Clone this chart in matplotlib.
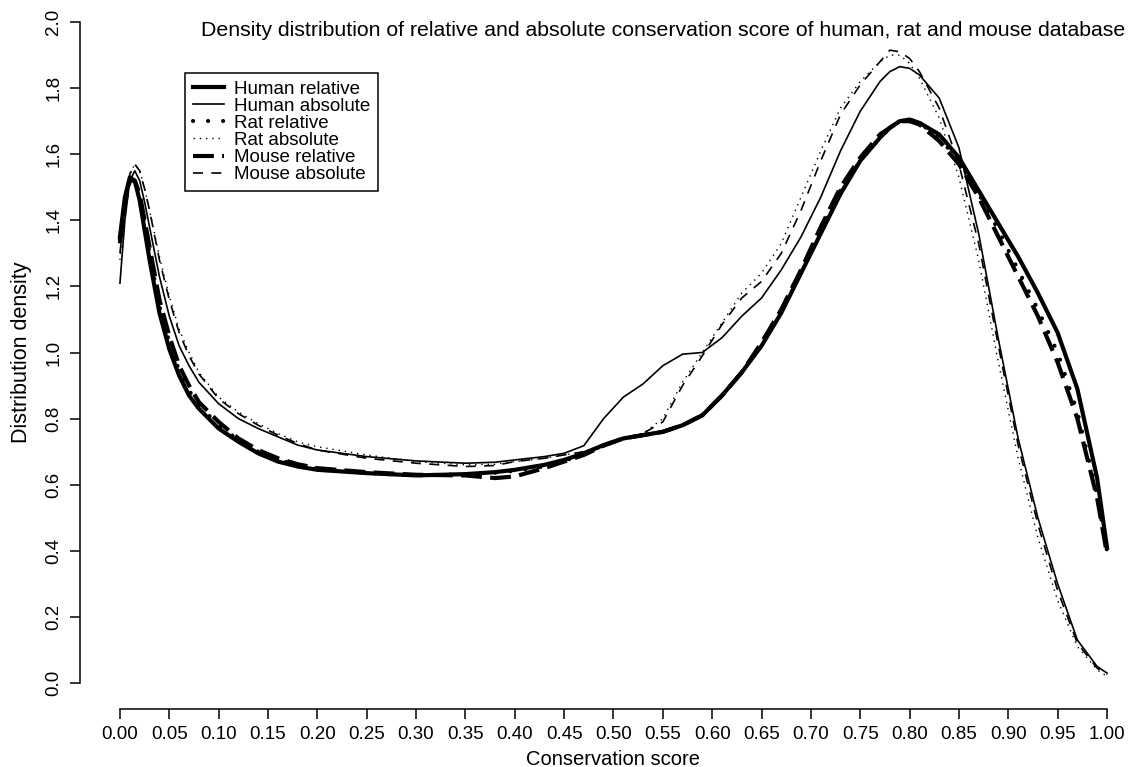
import numpy as np
import matplotlib
matplotlib.use("Agg")
from matplotlib import pyplot as plt

plt.rcParams['font.family'] = ['Liberation Sans', 'DejaVu Sans']

# conservation score grid the curves were read at
score = [0.0, 0.005, 0.01, 0.015, 0.02, 0.025, 0.03, 0.04, 0.05, 0.06, 0.07, 0.08,
         0.10, 0.12, 0.14, 0.16, 0.18, 0.20, 0.25, 0.30, 0.35, 0.38, 0.40,
         0.43, 0.45, 0.47, 0.49, 0.51, 0.53, 0.55, 0.57, 0.59, 0.61, 0.63,
         0.65, 0.67, 0.69, 0.71, 0.73, 0.75, 0.77, 0.78, 0.79, 0.80, 0.81, 0.83,
         0.85, 0.87, 0.89, 0.91, 0.93, 0.95, 0.97, 0.99, 1.00]

human_rel = [1.35, 1.47, 1.53, 1.52, 1.46, 1.37, 1.28, 1.12, 1.01, 0.93, 0.87, 0.83,
             0.77, 0.73, 0.695, 0.67, 0.655, 0.645, 0.635, 0.628, 0.632, 0.638, 0.645,
             0.66, 0.675, 0.695, 0.72, 0.74, 0.75, 0.76, 0.78, 0.81, 0.87, 0.94,
             1.02, 1.12, 1.24, 1.36, 1.48, 1.58, 1.65, 1.68, 1.70, 1.705, 1.695, 1.66,
             1.59, 1.49, 1.39, 1.29, 1.18, 1.06, 0.89, 0.62, 0.41]
human_abs = [1.21, 1.40, 1.52, 1.55, 1.52, 1.455, 1.38, 1.23, 1.11, 1.02, 0.96, 0.91,
             0.845, 0.80, 0.77, 0.745, 0.72, 0.705, 0.685, 0.672, 0.665, 0.668, 0.675,
             0.685, 0.695, 0.718, 0.80, 0.865, 0.905, 0.96, 0.995, 1.00, 1.045, 1.11,
             1.165, 1.25, 1.35, 1.47, 1.61, 1.73, 1.82, 1.85, 1.865, 1.86, 1.84, 1.77,
             1.62, 1.36, 1.04, 0.74, 0.50, 0.30, 0.13, 0.05, 0.03]
rat_rel = [1.34, 1.46, 1.52, 1.52, 1.47, 1.39, 1.30, 1.14, 1.03, 0.945, 0.885, 0.84,
           0.78, 0.735, 0.70, 0.675, 0.66, 0.648, 0.635, 0.628, 0.632, 0.636, 0.642,
           0.655, 0.672, 0.693, 0.72, 0.74, 0.75, 0.76, 0.78, 0.81, 0.87, 0.94,
           1.03, 1.13, 1.25, 1.37, 1.49, 1.58, 1.65, 1.68, 1.70, 1.705, 1.695, 1.65,
           1.58, 1.48, 1.37, 1.25, 1.13, 1.00, 0.82, 0.57, 0.40]
rat_abs = [1.28, 1.44, 1.54, 1.57, 1.55, 1.495, 1.43, 1.29, 1.17, 1.07, 1.00, 0.94,
           0.865, 0.82, 0.785, 0.755, 0.73, 0.715, 0.69, 0.67, 0.66, 0.662, 0.67,
           0.68, 0.69, 0.70, 0.72, 0.74, 0.755, 0.80, 0.91, 1.00, 1.09, 1.18,
           1.24, 1.33, 1.47, 1.61, 1.74, 1.82, 1.88, 1.90, 1.90, 1.875, 1.83, 1.71,
           1.53, 1.28, 0.97, 0.68, 0.44, 0.25, 0.11, 0.04, 0.02]
mouse_rel = [1.33, 1.45, 1.52, 1.52, 1.48, 1.40, 1.32, 1.16, 1.05, 0.96, 0.90, 0.85,
             0.79, 0.74, 0.705, 0.68, 0.662, 0.65, 0.638, 0.63, 0.628, 0.62, 0.625,
             0.65, 0.67, 0.69, 0.718, 0.74, 0.75, 0.76, 0.78, 0.81, 0.87, 0.94,
             1.03, 1.13, 1.25, 1.38, 1.50, 1.59, 1.66, 1.68, 1.70, 1.70, 1.69, 1.64,
             1.57, 1.47, 1.35, 1.23, 1.11, 0.97, 0.80, 0.56, 0.39]
mouse_abs = [1.30, 1.45, 1.54, 1.57, 1.55, 1.495, 1.43, 1.28, 1.16, 1.06, 0.99, 0.935,
             0.86, 0.815, 0.78, 0.75, 0.725, 0.705, 0.68, 0.665, 0.655, 0.658, 0.67,
             0.68, 0.69, 0.70, 0.72, 0.74, 0.755, 0.79, 0.90, 0.99, 1.085, 1.165,
             1.215, 1.30, 1.43, 1.58, 1.72, 1.81, 1.88, 1.915, 1.91, 1.89, 1.85, 1.74,
             1.57, 1.33, 1.02, 0.72, 0.48, 0.28, 0.12, 0.045, 0.025]

fig = plt.figure(figsize=(11.35, 7.67), dpi=100)
ax = fig.add_axes([0.0709, 0.0751, 0.9392, 0.9306])

ax.plot(score, human_rel, color='black', lw=3.0, label='Human relative')
ax.plot(score, human_abs, color='black', lw=1.2, label='Human absolute')
ax.plot(score, rat_rel, color='black', lw=3.0, linestyle=(0, (0.01, 3.6)),
        dash_capstyle='round', label='Rat relative')
ax.plot(score, rat_abs, color='black', lw=1.0, linestyle=(0, (1, 3.5)),
        label='Rat absolute')
ax.plot(score, mouse_rel, color='black', lw=3.0, linestyle=(0, (5, 2)),
        label='Mouse relative')
ax.plot(score, mouse_abs, color='black', lw=1.2, linestyle=(0, (6, 5)),
        label='Mouse absolute')

ax.set_xlim(-0.04, 1.04)
ax.set_ylim(-0.08, 2.08)
ax.spines['top'].set_visible(False)
ax.spines['right'].set_visible(False)
ax.spines['left'].set_bounds(0, 2)
ax.spines['bottom'].set_bounds(0, 1)
ax.spines['left'].set_linewidth(1.1)
ax.spines['bottom'].set_linewidth(1.1)

xt = np.round(np.arange(0, 1.0001, 0.05), 2)
ax.set_xticks(xt)
ax.set_xticklabels(['%.2f' % v for v in xt], fontsize=13.5)
yt = np.round(np.arange(0, 2.0001, 0.2), 1)
ax.set_yticks(yt)
ax.set_yticklabels(['%.1f' % v for v in yt], fontsize=13.5, rotation=90, va='center')
ax.tick_params(axis='both', length=7, width=1.1, direction='out')
ax.tick_params(axis='x', pad=5)
ax.tick_params(axis='y', pad=6)

ax.set_xlabel('Conservation score', fontsize=14.5, labelpad=5)
ax.set_ylabel('Distribution density', fontsize=15.5, labelpad=10)

fig.text(1125 / 1135, 1 - 30 / 767,
         'Density distribution of relative and absolute conservation score of human, rat and mouse database',
         ha='right', va='center', fontsize=15.3)

leg = ax.legend(loc='upper left', bbox_to_anchor=(185 / 1135, 1 - 73 / 767),
                bbox_transform=fig.transFigure, borderaxespad=0, fancybox=False,
                edgecolor='black', fontsize=13.5, handlelength=1.7, handletextpad=0.5,
                labelspacing=0.0, borderpad=0.4, framealpha=1)
leg.get_frame().set_linewidth(1.1)

fig.savefig('out.png', dpi=100)
